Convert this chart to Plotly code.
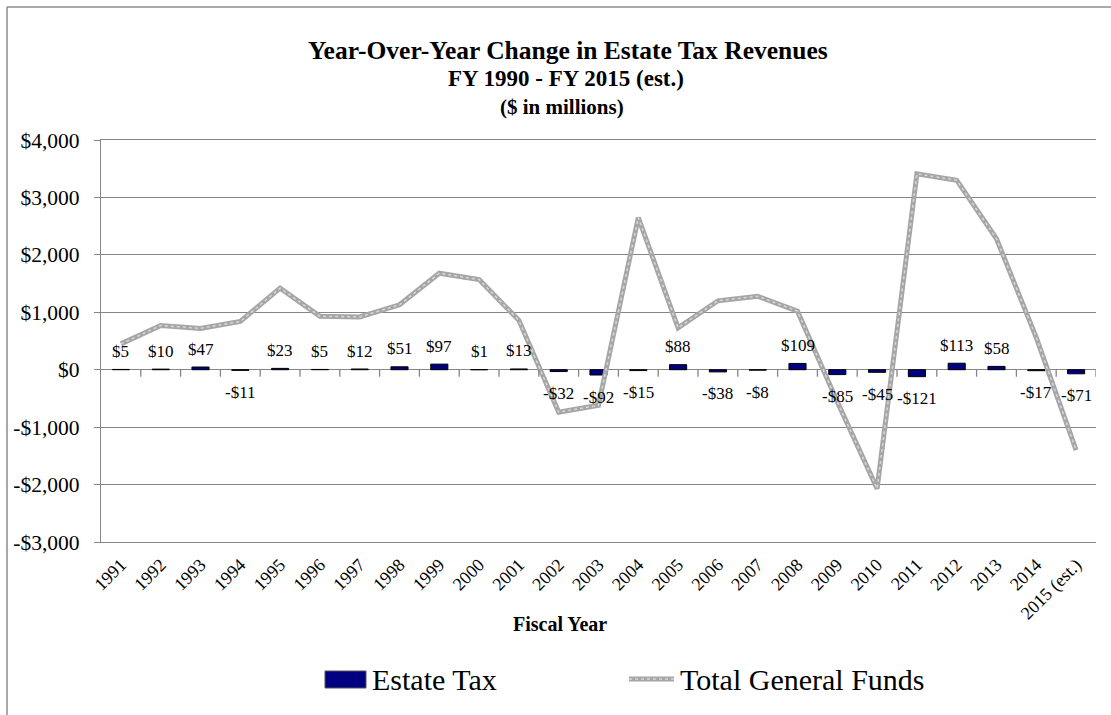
import plotly.graph_objects as go

# Fiscal years (x categories)
years = ["1991", "1992", "1993", "1994", "1995", "1996", "1997", "1998", "1999",
         "2000", "2001", "2002", "2003", "2004", "2005", "2006", "2007", "2008",
         "2009", "2010", "2011", "2012", "2013", "2014", "2015 (est.)"]

# Year-over-year change, $ millions
estate_tax = [5, 10, 47, -11, 23, 5, 12, 51, 97, 1, 13, -32, -92, -15, 88,
              -38, -8, 109, -85, -45, -121, 113, 58, -17, -71]
general_funds = [450, 770, 720, 840, 1420, 930, 920, 1130, 1680, 1570, 860,
                 -740, -620, 2650, 730, 1200, 1280, 1020, -560, -2070, 3410,
                 3300, 2280, 560, -1400]

# Value axis ticks
y_tickvals = [-3000, -2000, -1000, 0, 1000, 2000, 3000, 4000]
y_ticktext = ["-$3,000", "-$2,000", "-$1,000", "$0", "$1,000", "$2,000",
              "$3,000", "$4,000"]

FONT = "Liberation Serif"
GRID = "#868686"
NAVY = "#000080"
LINE_GRAY = "#a6a6a6"

W, H = 1111, 715
ML, MR, MT, MB = 101, 15, 140, 173
PW, PH = W - ML - MR, H - MT - MB


def px_x(px):
    return (px - ML) / PW


def px_y(py):
    return (H - MB - py) / PH


def money(v):
    return f"${v}" if v >= 0 else f"-${-v}"


fig = go.Figure()

fig.add_trace(go.Bar(
    x=years, y=estate_tax, name="Estate Tax", width=0.43,
    marker=dict(color=NAVY, line=dict(color="#000000", width=1)),
    showlegend=False,
))

fig.add_trace(go.Scatter(
    x=years, y=general_funds, name="Total General Funds", mode="lines",
    line=dict(color=LINE_GRAY, width=5), showlegend=False,
))
# light dotted overlay giving the line its hatched texture
fig.add_trace(go.Scatter(
    x=years, y=general_funds, mode="lines", hoverinfo="skip",
    line=dict(color="rgba(255,255,255,0.55)", width=1.5, dash="dot"),
    showlegend=False,
))

annotations = []
# data labels on the estate tax bars (category index positions)
for i, v in enumerate(estate_tax):
    annotations.append(dict(
        x=i, y=v, xref="x", yref="y", text=money(v), showarrow=False,
        yshift=18 if v >= 0 else -22, yanchor="middle",
        font=dict(family=FONT, size=17, color="#000000"),
    ))

# three-line chart title
for text, size, px, py in [("Year-Over-Year Change in Estate Tax Revenues", 25.5, 568, 50.5),
                           ("FY 1990 - FY 2015 (est.)", 23, 566, 78.5),
                           ("($ in millions)", 21, 562, 106.5)]:
    annotations.append(dict(
        x=px_x(px), y=px_y(py), xref="paper", yref="paper", text=f"<b>{text}</b>",
        showarrow=False, xanchor="center", yanchor="middle",
        font=dict(family=FONT, size=size, color="#000000"),
    ))

# axis title
annotations.append(dict(
    x=px_x(560), y=px_y(624), xref="paper", yref="paper", text="<b>Fiscal Year</b>",
    showarrow=False, xanchor="center", yanchor="middle",
    font=dict(family=FONT, size=20, color="#000000"),
))

# legend labels
for text, px in [("Estate Tax", 370), ("Total General Funds", 678)]:
    annotations.append(dict(
        x=px_x(px), y=px_y(679), xref="paper", yref="paper", text=text,
        showarrow=False, xanchor="left", yanchor="middle",
        font=dict(family=FONT, size=30, color="#000000"),
    ))

shapes = []
# category tick marks hanging below the zero line
for i in range(1, len(years) + 1):
    shapes.append(dict(
        type="line", xref="x", yref="y", x0=i - 0.5, x1=i - 0.5,
        ysizemode="pixel", yanchor=0, y0=0, y1=-7,
        line=dict(color=GRID, width=1.3),
    ))

# chart-area border (left and top edges)
shapes.append(dict(type="line", xref="paper", yref="paper",
                   x0=px_x(7), x1=px_x(7), y0=px_y(7), y1=px_y(H + 5),
                   line=dict(color="#8c8c8c", width=1.5)))
shapes.append(dict(type="line", xref="paper", yref="paper",
                   x0=px_x(7), x1=px_x(W + 5), y0=px_y(7), y1=px_y(7),
                   line=dict(color="#8c8c8c", width=1.5)))

# legend swatches
shapes.append(dict(type="rect", xref="paper", yref="paper",
                   x0=px_x(325), x1=px_x(366), y0=px_y(671), y1=px_y(688),
                   fillcolor=NAVY, line=dict(color="#555555", width=1)))
shapes.append(dict(type="line", xref="paper", yref="paper",
                   x0=px_x(629), x1=px_x(674), y0=px_y(679), y1=px_y(679),
                   line=dict(color=LINE_GRAY, width=5)))
shapes.append(dict(type="line", xref="paper", yref="paper",
                   x0=px_x(629), x1=px_x(674), y0=px_y(679), y1=px_y(679),
                   line=dict(color="rgba(255,255,255,0.55)", width=1.5, dash="dot")))

fig.update_layout(
    width=W, height=H,
    margin=dict(l=ML, r=MR, t=MT, b=MB, pad=0),
    paper_bgcolor="#ffffff", plot_bgcolor="#ffffff",
    font=dict(family=FONT, color="#000000"),
    showlegend=False,
    annotations=annotations,
    shapes=shapes,
    xaxis=dict(
        type="category", categoryorder="array", categoryarray=years,
        range=[-0.5, len(years) - 0.5], autorange=False,
        tickangle=-45, showgrid=False, zeroline=False,
        showline=True, mirror=True, linecolor=GRID, linewidth=1.3,
        ticks="", ticklabelstandoff=4,
        tickfont=dict(family=FONT, size=18, color="#000000"),
    ),
    yaxis=dict(
        range=[-3000, 4000], tickvals=y_tickvals, ticktext=y_ticktext,
        showgrid=True, gridcolor=GRID, gridwidth=1.3,
        zeroline=True, zerolinecolor=GRID, zerolinewidth=1.3,
        showline=True, linecolor=GRID, linewidth=1.3,
        ticks="outside", ticklen=6, tickcolor=GRID, tickwidth=1.3,
        ticklabelstandoff=10,
        tickfont=dict(family=FONT, size=21.5, color="#000000"),
    ),
)

fig.write_html("out.html")
